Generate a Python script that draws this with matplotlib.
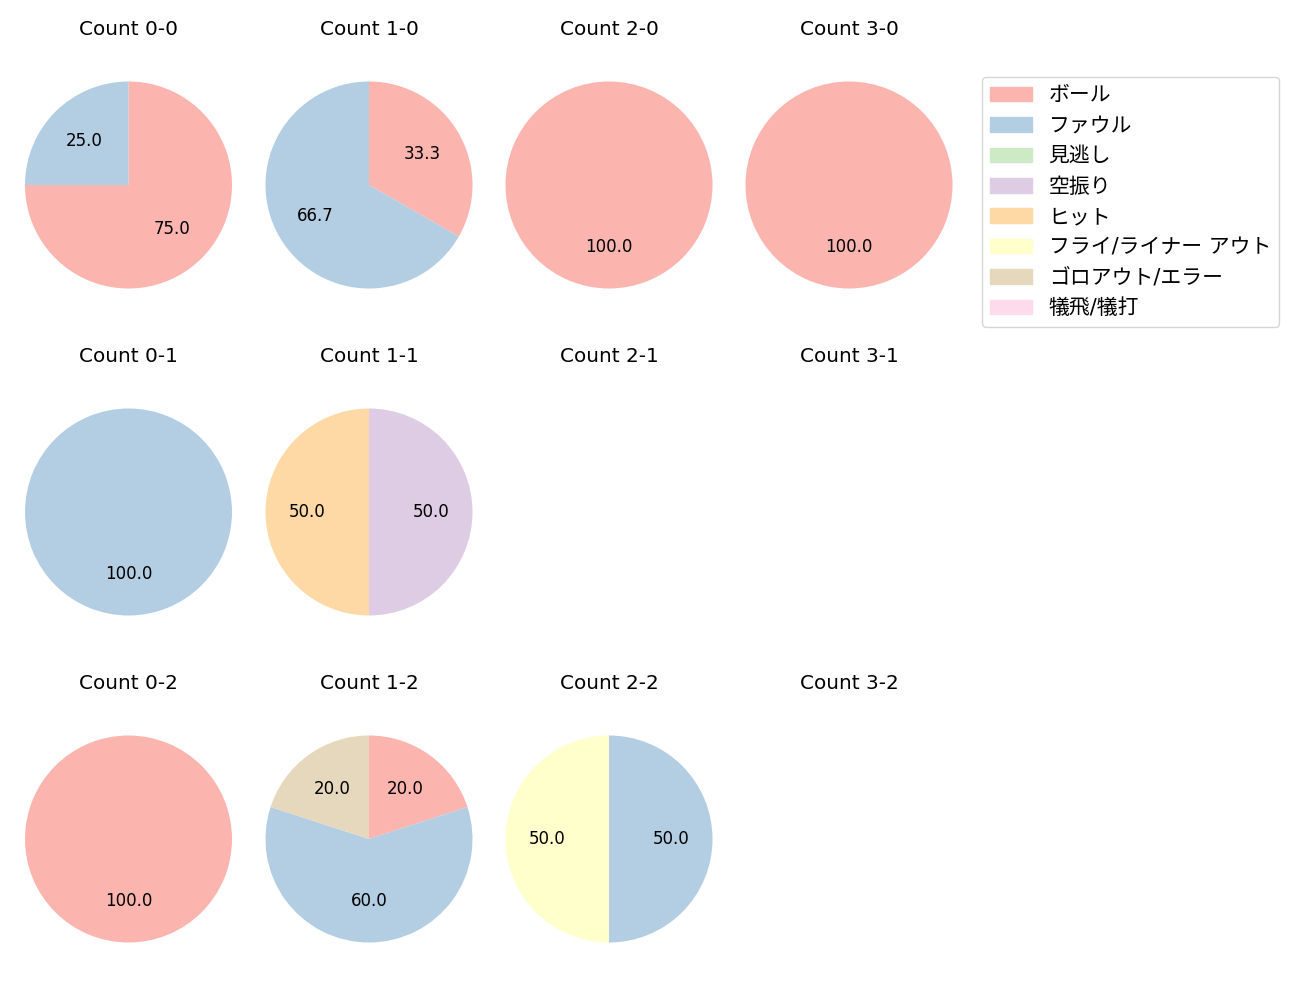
import matplotlib
matplotlib.use('Agg')
import matplotlib.pyplot as plt
from matplotlib.patches import Patch

plt.rcParams['font.family'] = ['DejaVu Sans', 'Noto Sans CJK JP']

# result categories (legend order)
categories = ['ボール', 'ファウル', '見逃し', '空振り', 'ヒット',
              'フライ/ライナー アウト', 'ゴロアウト/エラー', '犠飛/犠打']
colors = plt.get_cmap('Pastel1').colors[:len(categories)]

# share of each category per count (balls-strikes), in percent
count_0_0 = [75.0, 25.0, 0, 0, 0, 0, 0, 0]
count_1_0 = [33.3, 66.7, 0, 0, 0, 0, 0, 0]
count_2_0 = [100.0, 0, 0, 0, 0, 0, 0, 0]
count_3_0 = [100.0, 0, 0, 0, 0, 0, 0, 0]
count_0_1 = [0, 100.0, 0, 0, 0, 0, 0, 0]
count_1_1 = [0, 0, 0, 50.0, 50.0, 0, 0, 0]
count_2_1 = []
count_3_1 = []
count_0_2 = [100.0, 0, 0, 0, 0, 0, 0, 0]
count_1_2 = [20.0, 60.0, 0, 0, 0, 0, 20.0, 0]
count_2_2 = [0, 50.0, 0, 0, 0, 50.0, 0, 0]
count_3_2 = []

grid = [
    [('0-0', count_0_0), ('1-0', count_1_0), ('2-0', count_2_0), ('3-0', count_3_0)],
    [('0-1', count_0_1), ('1-1', count_1_1), ('2-1', count_2_1), ('3-1', count_3_1)],
    [('0-2', count_0_2), ('1-2', count_1_2), ('2-2', count_2_2), ('3-2', count_3_2)],
]

W, H = 1300, 1000
fig = plt.figure(figsize=(13, 10), dpi=100)

# pie centres in pixels, pie radius 103 px -> axes side 2.5 * 103
col_x = [128.5, 369, 609, 849]
row_y = [185, 512, 839]
side = 2.5 * 103.5

for r, row in enumerate(grid):
    for c, (name, vals) in enumerate(row):
        cx, cy = col_x[c], row_y[r]
        ax = fig.add_axes([(cx - side / 2) / W, 1 - (cy + side / 2) / H,
                           side / W, side / H])
        if vals:
            sizes = [v for v in vals if v > 0]
            cols = [colors[i] for i, v in enumerate(vals) if v > 0]
            ax.pie(sizes, colors=cols, startangle=90, counterclock=False,
                   autopct='%.1f', textprops={'fontsize': 12})
        else:
            ax.set_xlim(-1.25, 1.25)
            ax.set_ylim(-1.25, 1.25)
        ax.set_aspect('equal')
        ax.axis('off')
        ax.set_title('Count ' + name, fontsize=14.4, pad=14.5)

handles = [Patch(color=colors[i], label=categories[i]) for i in range(len(categories))]
fig.legend(handles=handles, loc='upper left', bbox_to_anchor=(982 / W, 1 - 77 / H),
           borderaxespad=0, fontsize=15)

fig.savefig('out.png', dpi=100)
